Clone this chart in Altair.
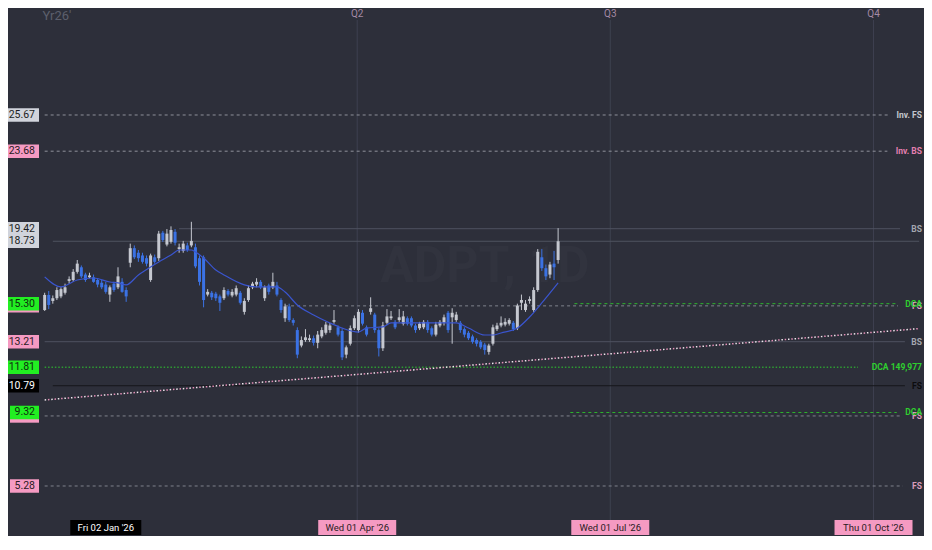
import altair as alt
import pandas as pd

# ---------------- data ----------------
opens = [14.95, 15.78, 15.45, 15.6, 15.7, 15.9, 16.55, 16.6, 17.05, 17.3, 16.9, 16.75, 16.75, 16.6, 16.45, 16.35,
         15.8, 16.4, 16.2, 16.5, 16.05, 17.55, 18.35, 18.1, 17.95, 17.8, 16.6, 17.85, 17.8, 19.2, 18.55, 18.7,
         19.25, 18.3, 18.2, 18.5, 18.5, 18.4, 17.8, 17.85, 15.8, 15.9, 15.85, 15.7, 15.6, 16.0, 15.75, 15.8,
         15.9, 14.85, 15.5, 16.2, 16.35, 16.5, 15.6, 16.3, 16.2, 16.3, 15.5, 14.5, 15.15, 14.4, 13.85, 13.0,
         13.3, 13.3, 13.4, 13.15, 13.5, 13.7, 13.85, 14.3, 14.0, 13.8, 12.5, 13.1, 13.95, 13.85, 14.8, 14.0,
         14.85, 14.7, 13.85, 12.85, 14.25, 14.5, 14.3, 14.4, 14.2, 14.5, 14.5, 14.1, 13.95, 14.0, 14.3, 13.95,
         13.6, 14.1, 14.25, 14.8, 14.55, 14.4, 14.25, 13.9, 13.7, 13.5, 13.3, 13.2, 13.05, 12.65, 13.1, 13.9,
         14.1, 14.15, 14.2, 14.25, 13.95, 15.35, 14.95, 15.45, 14.95, 16.05, 17.85, 17.25, 16.9, 17.5, 17.7]
highs = [15.9, 16.0, 15.75, 16.2, 16.2, 16.4, 16.8, 17.2, 17.7, 17.4, 17.0, 17.0, 16.9, 16.7, 16.6, 16.5,
         16.3, 16.5, 17.3, 16.7, 16.2, 18.6, 18.5, 18.25, 18.1, 17.95, 18.05, 18.0, 19.3, 19.3, 19.4, 19.55,
         19.4, 18.6, 18.75, 18.65, 19.8, 18.6, 17.95, 17.95, 16.1, 16.0, 15.95, 15.8, 16.2, 16.1, 16.1, 16.3,
         16.0, 15.6, 16.3, 16.5, 16.7, 16.6, 16.3, 16.4, 17.0, 16.5, 15.6, 15.3, 15.3, 14.5, 14.0, 13.5,
         13.9, 13.6, 13.55, 13.8, 14.0, 14.3, 14.25, 14.95, 14.1, 13.9, 13.0, 14.1, 14.65, 15.0, 14.95, 14.1,
         15.65, 14.8, 13.95, 14.3, 15.0, 14.9, 14.4, 15.0, 14.9, 14.6, 14.6, 14.2, 14.3, 14.4, 14.4, 14.05,
         14.3, 14.4, 14.7, 14.9, 15.05, 14.85, 14.35, 14.0, 13.8, 13.6, 13.4, 13.3, 13.15, 13.1, 14.15, 14.25,
         14.6, 14.5, 14.5, 14.35, 15.3, 15.8, 15.5, 15.7, 16.2, 18.3, 18.3, 17.45, 17.6, 18.2, 19.45]
lows = [14.9, 15.0, 15.3, 15.5, 15.6, 15.8, 16.4, 16.5, 16.95, 16.7, 16.5, 16.7, 16.45, 16.2, 16.1, 15.85,
        15.4, 15.95, 16.1, 15.9, 15.4, 17.3, 17.75, 17.6, 17.5, 17.35, 16.5, 17.5, 17.65, 18.7, 18.45, 18.6,
        18.5, 18.1, 18.1, 18.15, 18.4, 17.25, 16.3, 15.1, 15.7, 15.5, 15.45, 14.9, 15.5, 15.7, 15.65, 15.7,
        15.25, 14.7, 15.4, 16.1, 16.2, 16.1, 15.45, 15.8, 16.1, 15.7, 14.8, 14.3, 14.3, 14.1, 12.3, 12.9,
        13.2, 13.2, 13.0, 12.85, 13.4, 13.6, 13.7, 14.2, 13.5, 12.2, 12.3, 13.0, 13.85, 13.7, 14.1, 13.5,
        14.7, 13.7, 12.4, 12.7, 14.15, 14.4, 13.9, 14.3, 14.1, 14.1, 14.0, 13.7, 13.85, 13.9, 13.7, 13.5,
        13.5, 14.0, 14.1, 13.7, 13.1, 14.3, 13.7, 13.45, 13.3, 13.1, 12.95, 12.8, 12.5, 12.5, 13.0, 13.8,
        14.0, 14.05, 14.1, 13.8, 13.85, 14.95, 14.85, 15.3, 14.85, 15.95, 17.1, 16.6, 16.7, 16.6, 17.5]
closes = [15.78, 15.23, 15.6, 16.05, 16.1, 16.2, 16.65, 17.05, 17.5, 16.8, 16.6, 16.85, 16.5, 16.35, 16.2, 15.95,
          16.2, 16.05, 16.8, 15.95, 15.7, 18.35, 17.85, 17.8, 17.6, 17.5, 17.95, 17.6, 19.15, 18.8, 19.15, 19.35,
          18.65, 18.4, 18.6, 18.25, 18.75, 17.35, 16.5, 15.5, 15.95, 15.65, 15.6, 15.35, 16.05, 15.8, 15.95, 16.15,
          15.35, 15.45, 16.15, 16.4, 16.5, 16.2, 16.2, 15.95, 16.5, 15.8, 14.95, 15.15, 14.4, 14.25, 12.5, 13.3,
          13.45, 13.4, 13.15, 13.6, 13.85, 14.15, 14.1, 14.4, 13.6, 12.35, 12.9, 13.95, 14.5, 14.85, 14.2, 13.6,
          15.05, 13.85, 12.85, 14.1, 14.6, 14.6, 14.0, 14.55, 14.6, 14.2, 14.1, 13.85, 14.2, 14.3, 13.85, 13.6,
          14.15, 14.3, 14.55, 13.85, 14.8, 14.7, 13.85, 13.6, 13.4, 13.2, 13.1, 12.9, 12.75, 13.0, 14.0, 14.1,
          14.25, 14.3, 14.4, 13.9, 15.2, 15.5, 15.3, 15.55, 16.05, 18.15, 17.25, 16.8, 17.45, 17.3, 18.73]

ma_bar = [0, 4, 8, 12, 16, 18, 20, 23, 26, 28, 31, 33, 36, 37, 39, 42, 44, 49, 52, 57, 59, 62, 66, 70,
          73, 77, 79, 83, 85, 91, 96, 101, 104, 108, 110, 112, 116, 119, 122, 126]
ma_value = [16.77, 16.22, 16.6, 16.71, 16.49, 16.44, 16.33, 16.88, 17.32, 17.59, 17.97, 18.25, 18.25, 18.14,
            17.81, 17.15, 16.88, 16.33, 16.22, 16.22, 15.94, 15.23, 14.68, 14.24, 13.96, 13.74, 13.96, 14.02,
            14.24, 14.24, 14.24, 14.24, 13.96, 13.58, 13.58, 13.69, 13.96, 14.57, 15.34, 16.44]

# horizontal levels (price, first bar, last bar, right-hand tag, kind)
level_price = [25.67, 23.68, 19.42, 18.73, 15.18, 15.30, 13.21, 11.81, 10.79, 9.13, 9.32, 5.28]
level_start = [0, 0, 33, 2, 59, 130, 0, 0, 2, 0, 129, 0]
level_end = [207.0, 206.8, 209.9, 214.6, 209.4, 209.1, 211.1, 199.6, 211.1, 209.9, 209.1, 210.6]
level_tag = ["Inv. FS", "Inv. BS", "BS", "", "FS", "DCA", "BS", "DCA 149,977", "FS", "FS", "DCA", "FS"]
level_kind = ["inv_fs", "inv_bs", "bs", "last", "fs", "dca", "bs", "dca_total", "fs_black", "fs", "dca", "fs"]

# price boxes on the left (price, text, box kind)
box_price = [25.67, 23.68, 19.42, 18.73, 15.18, 15.30, 13.21, 11.81, 10.79, 9.13, 9.32, 5.28]
box_text = ["25.67", "23.68", "19.42", "18.73", "15.18", "15.30", "13.21", "11.81", "10.79", "9.13", "9.32", "5.28"]
box_kind = ["grey", "pink", "grey", "grey", "pink", "green", "pink", "green", "black", "pink", "green", "pink"]

# trend line (two anchor points)
trend_bar = [0, 214.6]
trend_price = [10.01, 13.93]

# time markers
date_bar = [15, 76.7, 138.8, 203.4]
date_text = ["Fri 02 Jan '26", "Wed 01 Apr '26", "Wed 01 Jul '26", "Thu 01 Oct '26"]
date_kind = ["black", "pink", "pink", "pink"]
quarter_bar = [76.7, 138.8, 203.4]
quarter_text = ["Q2", "Q3", "Q4"]
year_bar = [3]
year_text = ["Yr26'"]

# ---------------- styling ----------------
BG = "#2d2f3a"
UP = "#c5c8d0"
DOWN = "#3b72e4"
MA = "#3a55cf"
FONT = "Roboto"
W, H = 916, 528

xs = alt.Scale(domain=[-7.77, 214.56], nice=False, zero=False)
ys = alt.Scale(domain=[2.532, 31.55], nice=False, zero=False)


def X(f):
    return alt.X(f, type="quantitative", scale=xs, axis=None)


def Y(f):
    return alt.Y(f, type="quantitative", scale=ys, axis=None)


cdf = pd.DataFrame({"bar": list(range(len(opens))), "open": opens, "high": highs,
                    "low": lows, "close": closes})
up = cdf[cdf["close"] >= cdf["open"]]
down = cdf[cdf["close"] < cdf["open"]]

layers = []

# watermark
wm = pd.DataFrame({"bar": [108], "price": [17.3], "t": ["ADPT, 1D"]})
layers.append(alt.Chart(wm).mark_text(font=FONT, fontSize=50, fontWeight="bold", color="#31333e",
                                      align="center", baseline="middle")
              .encode(x=X("bar"), y=Y("price"), text="t:N"))

# quarter grid lines
qdf = pd.DataFrame({"bar": quarter_bar, "t": quarter_text})
layers.append(alt.Chart(qdf).mark_rule(color="#3e4150", strokeWidth=1)
              .encode(x=X("bar"), y=alt.value(12), y2=alt.value(512)))

# level lines
ldf = pd.DataFrame({"price": level_price, "start": level_start, "end": level_end,
                    "tag": level_tag, "kind": level_kind})
line_style = {
    "inv_fs": ("#8e919a", [3, 3]),
    "inv_bs": ("#8e919a", [3, 3]),
    "bs": ("#4f5260", None),
    "last": ("#4f5260", None),
    "fs": ("#7f828c", [3, 3]),
    "dca": ("#2db52d", [3, 3]),
    "dca_total": ("#2fd02f", [1.5, 1.9]),
    "fs_black": ("#15161b", None),
}
for k, (col, dash) in line_style.items():
    sub = ldf[ldf["kind"] == k]
    kw = dict(color=col, strokeWidth=1)
    if dash:
        kw["strokeDash"] = dash
    layers.append(alt.Chart(sub).mark_rule(**kw)
                  .encode(x=X("start"), x2="end", y=Y("price")))

# trend line (alternating pink / white dots)
tdf = pd.DataFrame({"bar": trend_bar, "price": trend_price})
layers.append(alt.Chart(tdf).mark_line(color="#f0e8ee", strokeWidth=1.5, strokeDash=[1.5, 5.1])
              .encode(x=X("bar"), y=Y("price")))
layers.append(alt.Chart(tdf).mark_line(color="#e58fb8", strokeWidth=1.5, strokeDash=[1.5, 5.1],
                                       strokeDashOffset=3.3)
              .encode(x=X("bar"), y=Y("price")))

# candles
for sub, col in [(up, UP), (down, DOWN)]:
    layers.append(alt.Chart(sub).mark_rule(strokeWidth=1, color=col)
                  .encode(x=X("bar"), y=Y("low"), y2="high"))
    layers.append(alt.Chart(sub).mark_bar(size=3, color=col)
                  .encode(x=X("bar"), y=Y("open"), y2="close"))

# moving average
mdf = pd.DataFrame({"bar": ma_bar, "ma": ma_value})
layers.append(alt.Chart(mdf).mark_line(color=MA, strokeWidth=1.2, interpolate="monotone")
              .encode(x=X("bar"), y=Y("ma")))

# right-hand tags
tag_color = {"inv_fs": "#c3c6ce", "inv_bs": "#e47fb0", "bs": "#a4a7b0", "fs": "#d99bbb",
             "dca": "#2fd02f", "dca_total": "#2fd02f", "fs_black": "#0c0c0e"}
tagged = ldf[ldf["tag"] != ""]
for k, col in tag_color.items():
    sub = tagged[tagged["kind"] == k]
    layers.append(alt.Chart(sub).mark_text(font=FONT, fontSize=8.5, fontWeight="bold", align="right",
                                           baseline="middle", color=col)
                  .encode(x=alt.value(914), y=Y("price"), text="tag:N"))

# left price boxes
box_fill = {"grey": "#d1d4dc", "pink": "#f59ac2", "green": "#22ee22", "black": "#000000"}
box_ink = {"grey": "#1c1d22", "pink": "#2a1a22", "green": "#0e2a0e", "black": "#ffffff"}
bdf = pd.DataFrame({"price": box_price, "t": box_text, "kind": box_kind})
for i in range(len(bdf)):
    row = bdf.iloc[[i]]
    k = row["kind"].iloc[0]
    wide = len(row["t"].iloc[0]) >= 5
    layers.append(alt.Chart(row).mark_tick(orient="horizontal", thickness=13.5,
                                           size=35 if wide else 29, opacity=1, color=box_fill[k])
                  .encode(x=alt.value(13.5 if wide else 16.5), y=Y("price")))
    layers.append(alt.Chart(row).mark_text(font=FONT, fontSize=10.5, align="right", baseline="middle",
                                           color=box_ink[k])
                  .encode(x=alt.value(27), y=Y("price"), text="t:N"))

# bottom date boxes
ddf = pd.DataFrame({"bar": date_bar, "t": date_text, "kind": date_kind})
for k, w in [("black", 71), ("pink", 78)]:
    sub = ddf[ddf["kind"] == k]
    layers.append(alt.Chart(sub).mark_tick(orient="horizontal", thickness=15, size=w, opacity=1,
                                           color=box_fill[k])
                  .encode(x=X("bar"), y=alt.value(519.5)))
    layers.append(alt.Chart(sub).mark_text(font=FONT, fontSize=9.5, align="center", baseline="middle",
                                           color=box_ink[k])
                  .encode(x=X("bar"), y=alt.value(520), text="t:N"))

# top labels
layers.append(alt.Chart(qdf).mark_text(font=FONT, fontSize=10, color="#a58aa5", align="center",
                                       baseline="middle")
              .encode(x=X("bar"), y=alt.value(6), text="t:N"))
ydf = pd.DataFrame({"bar": year_bar, "t": year_text})
layers.append(alt.Chart(ydf).mark_text(font=FONT, fontSize=13, color="#5c5f6c", align="center",
                                       baseline="middle")
              .encode(x=X("bar"), y=alt.value(8), text="t:N"))

chart = (alt.layer(*layers)
         .properties(width=W, height=H, background=BG, padding=0,
                     autosize=alt.AutoSizeParams(type="none"))
         .configure_view(stroke=None))

chart.save("out.html", embed_options={"renderer": "svg", "actions": False})
